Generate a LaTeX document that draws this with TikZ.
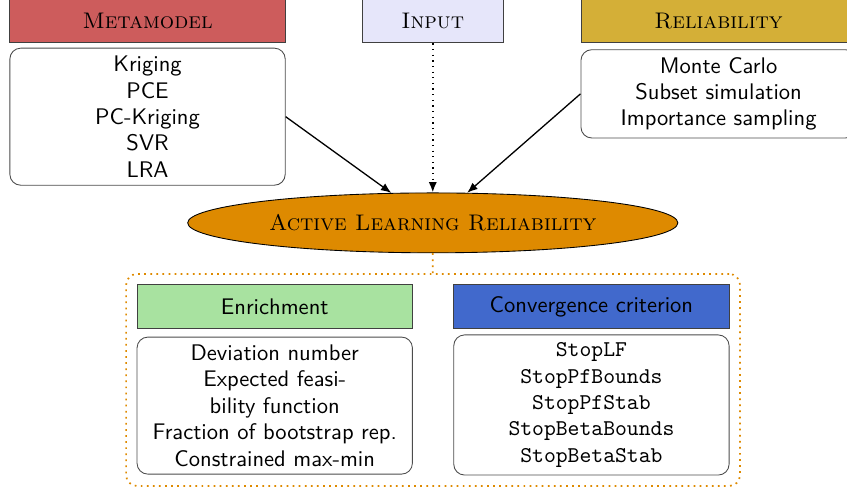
\documentclass[tikz,border=0pt]{standalone}
\usepackage{tikz}
\usetikzlibrary{arrows}
\usetikzlibrary{arrows.meta}
\usetikzlibrary{shapes}
\usetikzlibrary{fit}
\usetikzlibrary{positioning}
\definecolor{metared}{RGB}{205,92,92}
\definecolor{inputlav}{RGB}{230,230,250}
\definecolor{relgold}{RGB}{212,175,55}
\definecolor{alrorange}{RGB}{222,138,0}
\definecolor{enrgreen}{RGB}{168,226,160}
\definecolor{convblue}{RGB}{65,105,204}
\newcommand{\boxfont}{\fontsize{10.4}{12.2}\selectfont}
\tikzstyle{head} = [rectangle, draw=black!75, minimum width=4.46cm,
minimum height=0.71cm, inner sep=0pt, font=\boxfont]
\tikzstyle{list} = [rectangle, rounded corners=5pt, draw=black!70,
minimum width=4.46cm, inner sep=2pt, align=center, font=\boxfont\sffamily]
\tikzstyle{alr} = [ellipse, draw=black, fill=alrorange, minimum width=7.94cm,
minimum height=0.97cm, font=\boxfont]
\tikzstyle{group} = [draw=alrorange, dotted, thick, rounded corners=5pt,
inner sep=0.17cm, fit=#1]
\tikzstyle{feed} = [->, >={Latex[length=4.8pt,width=3.8pt]}, semithick]

\begin{document}
\begin{tikzpicture}
    \clip (0,0) rectangle (13.72,-7.91);
    % inputs on top
    \node[head, fill=metared](meta) at (2.39,-0.34) {\textsc{Metamodel}};
    \node[list, minimum height=2.22cm](metalist) at (2.39,-1.89)
        {Kriging\\PCE\\PC-Kriging\\SVR\\LRA};
    \node[head, fill=inputlav, minimum width=2.28cm](input) at (7.01,-0.34) {\textsc{Input}};
    \node[head, fill=relgold](rel) at (11.64,-0.34) {\textsc{Reliability}};
    \node[list, minimum height=1.43cm](rellist) at (11.64,-1.52)
        {Monte Carlo\\Subset simulation\\Importance sampling};
    \node[alr](alr) at (7.01,-3.61) {\textsc{Active Learning Reliability}};
    \draw[feed] (metalist.east) -- (alr);
    \draw[feed] (rellist.west) -- (alr);
    \draw[feed, dotted, thick] (input) -- (alr);
    % options of the algorithm
    \node[head, fill=enrgreen, font=\boxfont\sffamily](enr) at (4.45,-4.97) {Enrichment};
    \node[list, minimum height=2.22cm](enrlist) at (4.45,-6.57)
        {Deviation number\\Expected feasi-\\bility function\\Fraction of bootstrap rep.\\Constrained max-min};
    \node[head, fill=convblue, font=\boxfont\sffamily](conv) at (9.58,-4.97) {Convergence criterion};
    \node[list, minimum height=2.27cm, font=\boxfont\ttfamily](convlist) at (9.58,-6.56)
        {StopLF\\StopPfBounds\\StopPfStab\\StopBetaBounds\\StopBetaStab};
    \node[group=(enr)(enrlist)(conv)(convlist)](opts) {};
    \draw[alrorange, dotted, thick] (alr) -- (opts);
\end{tikzpicture}
\end{document}
